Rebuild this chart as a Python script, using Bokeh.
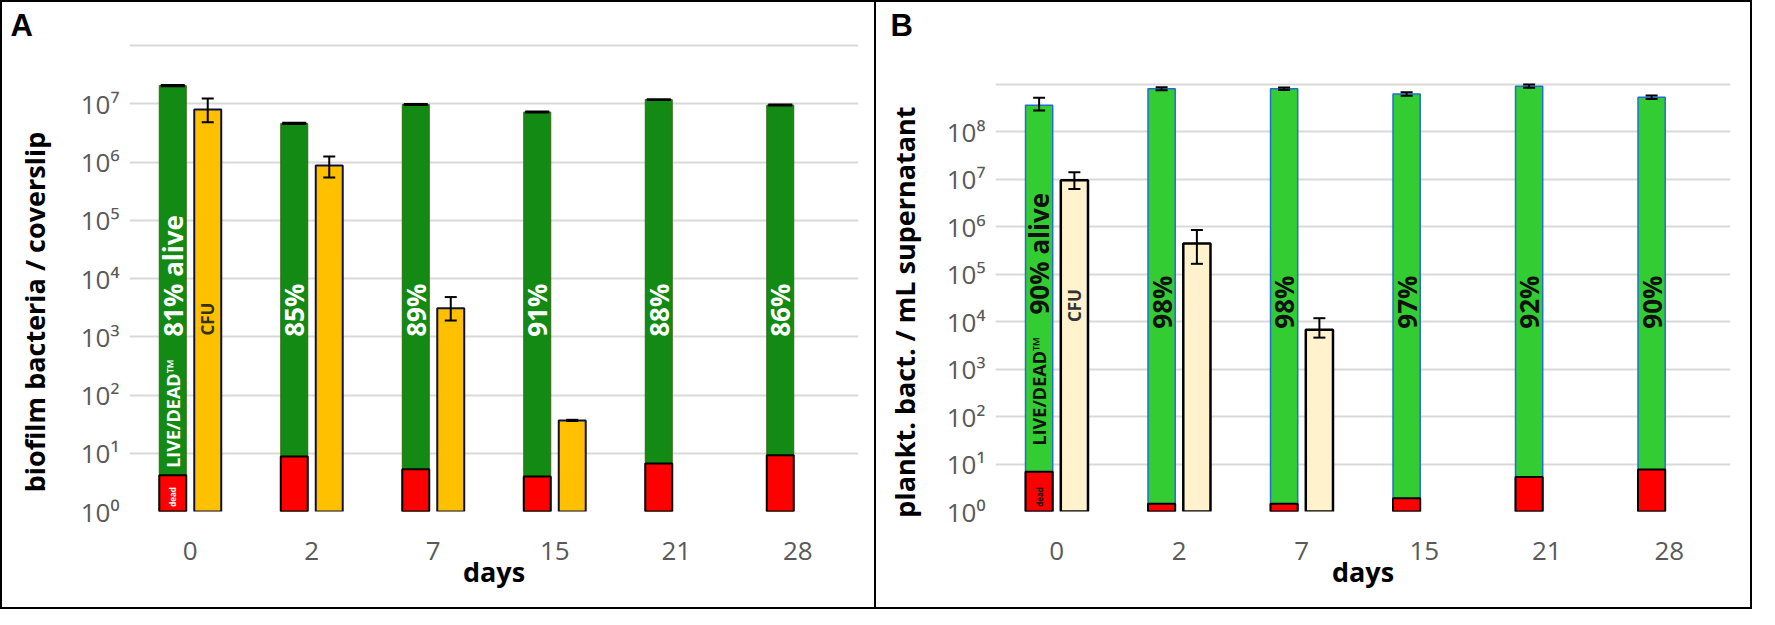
import math
from bokeh.plotting import figure
from bokeh.models import ColumnDataSource, FactorRange, FixedTicker, Whisker, TeeHead
from bokeh.transform import dodge
from bokeh.layouts import row
from bokeh.embed import file_html
from bokeh.resources import INLINE
from bokeh.core.properties import value

# ---------------- data ----------------
days = ["0", "2", "7", "15", "21", "28"]

# Panel A: biofilm bacteria / coverslip
a_total = [2.05e7, 4.6e6, 9.7e6, 7.2e6, 1.18e7, 9.5e6]
a_total_hi = [2.1e7, 4.7e6, 9.9e6, 7.35e6, 1.2e7, 9.7e6]
a_total_lo = [2.0e7, 4.5e6, 9.5e6, 7.05e6, 1.16e7, 9.3e6]
a_dead = [4.2, 8.8, 5.3, 4.0, 6.7, 9.2]
a_pct = ["81% alive", "85%", "89%", "91%", "88%", "86%"]
a_cfu_days = ["0", "2", "7", "15"]
a_cfu = [8.0e6, 8.7e5, 3.1e3, 36.6]
a_cfu_hi = [1.23e7, 1.24e6, 4.8e3, 37.5]
a_cfu_lo = [4.8e6, 5.4e5, 1.9e3, 35.8]

# Panel B: plankt. bact. / mL supernatant
b_total = [3.6e8, 8.0e8, 8.0e8, 6.2e8, 9.1e8, 5.3e8]
b_total_hi = [5.2e8, 8.6e8, 8.5e8, 6.8e8, 9.9e8, 5.8e8]
b_total_lo = [2.8e8, 7.5e8, 7.6e8, 5.7e8, 8.4e8, 4.9e8]
b_dead = [6.9, 1.45, 1.45, 1.9, 5.3, 7.7]
b_pct = ["90% alive", "98%", "98%", "97%", "92%", "90%"]
b_cfu_days = ["0", "2", "7"]
b_cfu = [9.5e6, 4.4e5, 6.7e3]
b_cfu_hi = [1.4e7, 8.5e5, 1.18e4]
b_cfu_lo = [6.2e6, 1.65e5, 4.6e3]

SUP = "⁰¹²³⁴⁵⁶⁷⁸⁹"
FONT = "Open Sans"
OFF = 0.144
BW = 0.222
NB = "\u00a0"
TOP = 40  # frame top (px from canvas top), same for both panels


def base_fig(ymax_exp, top_pad_px, px_per_decade, ylabel, ml, mr, mb,
             ylab_standoff, letter, letter_off):
    y_end = 10 ** (ymax_exp + top_pad_px / px_per_decade)
    p = figure(x_range=FactorRange(*days), y_axis_type="log",
               y_range=(1, y_end), width=876, height=609,
               output_backend="svg", toolbar_location=None,
               min_border_left=ml, min_border_right=mr,
               min_border_top=TOP, min_border_bottom=mb)
    p.outline_line_color = None
    ticks = [10 ** i for i in range(ymax_exp + 1)]
    p.yaxis.ticker = FixedTicker(ticks=ticks)
    p.ygrid.ticker = FixedTicker(ticks=ticks)
    p.yaxis.major_label_overrides = {10 ** i: ("10" + SUP[i] if i < ymax_exp else "")
                                     for i in range(ymax_exp + 1)}
    p.xgrid.grid_line_color = None
    p.ygrid.grid_line_color = "#D9D9D9"
    p.ygrid.grid_line_width = 2
    for ax in (p.xaxis, p.yaxis):
        ax.axis_line_color = None
        ax.major_tick_line_color = None
        ax.minor_tick_line_color = None
        ax.major_label_text_font = FONT
        ax.major_label_text_font_size = "26px"
        ax.major_label_text_color = "#595959"
        ax.axis_label_text_font = FONT
        ax.axis_label_text_font_style = "bold"
        ax.axis_label_text_color = "black"
    p.xaxis.axis_label_text_font_size = "27px"
    p.yaxis.axis_label_text_font_size = "27px"
    p.yaxis.major_label_standoff = 4
    p.xaxis.major_label_standoff = 24
    p.xaxis.axis_label = "days"
    p.xaxis.axis_label_standoff = -10
    p.yaxis.axis_label = ylabel
    p.yaxis.axis_label_standoff = ylab_standoff
    p.title.text = letter
    p.title.align = "left"
    p.title.offset = letter_off
    p.title.standoff = 0
    p.title.text_font = "Liberation Sans"
    p.title.text_font_style = "bold"
    p.title.text_font_size = "31px"
    p.title.text_color = "black"
    return p


def rot_text(p, xs, ys, texts, off, size, color):
    src = ColumnDataSource(dict(day=xs, y=ys, t=texts))
    p.text(x=dodge("day", off, range=p.x_range), y="y", text="t", source=src,
           angle=math.pi / 2, text_align="left", text_baseline="middle",
           text_font=value(FONT), text_font_style="bold",
           text_font_size=size, text_color=color)


def whisk(p, xs, hi, lo, off, size):
    src = ColumnDataSource(dict(day=xs, hi=hi, lo=lo))
    w = Whisker(source=src, base=dodge("day", off, range=p.x_range),
                upper="hi", lower="lo", line_width=2, line_color="black",
                upper_head=TeeHead(size=size, line_width=2, line_color="black"),
                lower_head=TeeHead(size=size, line_width=2, line_color="black"),
                level="overlay")
    p.add_layout(w)


# ---------------- panel A ----------------
# frame: top 40, bottom 509 (canvas px) -> 10^8 gridline at 43
pA = base_fig(8, 3, 58.25, "biofilm bacteria / coverslip" + NB * 10, 127, 20, 100, 25,
              "A", -119)
srcA = ColumnDataSource(dict(day=days, total=a_total, dead=a_dead))
pA.vbar(x=dodge("day", -OFF, range=pA.x_range), top="total", bottom=1, width=BW,
        source=srcA, fill_color="#138A13", line_color="#2F6B12", line_width=1)
pA.vbar(x=dodge("day", -OFF, range=pA.x_range), top="dead", bottom=1, width=BW,
        source=srcA, fill_color="#FF0000", line_color="black", line_width=2)
srcAc = ColumnDataSource(dict(day=a_cfu_days, cfu=a_cfu))
pA.vbar(x=dodge("day", OFF, range=pA.x_range), top="cfu", bottom=1, width=BW,
        source=srcAc, fill_color="#FFC000", line_color="#10103A", line_width=2)
whisk(pA, days, a_total_hi, a_total_lo, -OFF, 24)
whisk(pA, a_cfu_days, a_cfu_hi, a_cfu_lo, OFF, 12)
rot_text(pA, days, [10 ** 3.0] * 6, a_pct, -OFF, "26px", "white")
rot_text(pA, ["0"], [10 ** 0.75], ["LIVE/DEAD™"], -OFF, "18px", "white")
rot_text(pA, ["0"], [10 ** 0.08], ["dead"], -OFF, "8px", "white")
rot_text(pA, ["0"], [10 ** 3.02], ["CFU"], OFF, "17px", "#333300")
pA.styles = {"border": "2px solid black"}

# ---------------- panel B ----------------
# frame: top 40, bottom 523 (canvas px) -> 10^9 gridline at 83
pB = base_fig(9, 43, 48.89, "plankt. bact. / mL supernatant" + NB * 10, 119, 22, 86, 21,
              "B", -105)
srcB = ColumnDataSource(dict(day=days, total=b_total, dead=b_dead))
pB.vbar(x=dodge("day", -OFF, range=pB.x_range), top="total", bottom=1, width=BW,
        source=srcB, fill_color="#33CC33", line_color="#1F6FD0", line_width=1.5)
pB.vbar(x=dodge("day", -OFF, range=pB.x_range), top="dead", bottom=1, width=BW,
        source=srcB, fill_color="#FF0000", line_color="black", line_width=2)
srcBc = ColumnDataSource(dict(day=b_cfu_days, cfu=b_cfu))
pB.vbar(x=dodge("day", OFF, range=pB.x_range), top="cfu", bottom=1, width=BW,
        source=srcBc, fill_color="#FFF2CC", line_color="black", line_width=2.5)
whisk(pB, days, b_total_hi, b_total_lo, -OFF, 12)
whisk(pB, b_cfu_days, b_cfu_hi, b_cfu_lo, OFF, 12)
rot_text(pB, ["0"], [10 ** 4.15], [b_pct[0]], -OFF, "26px", "#111111")
rot_text(pB, days[1:], [10 ** 3.85] * 5, b_pct[1:], -OFF, "26px", "#111111")
rot_text(pB, ["0"], [10 ** 1.39], ["LIVE/DEAD™"], -OFF, "18px", "#111111")
rot_text(pB, ["0"], [10 ** 0.1], ["dead"], -OFF, "8px", "#111111")
rot_text(pB, ["0"], [10 ** 3.99], ["CFU"], OFF, "17px", "#333333")
pB.styles = {"border-top": "2px solid black", "border-right": "2px solid black",
             "border-bottom": "2px solid black"}

layout = row(pA, pB)
open("out.html", "w").write(file_html(layout, INLINE))
